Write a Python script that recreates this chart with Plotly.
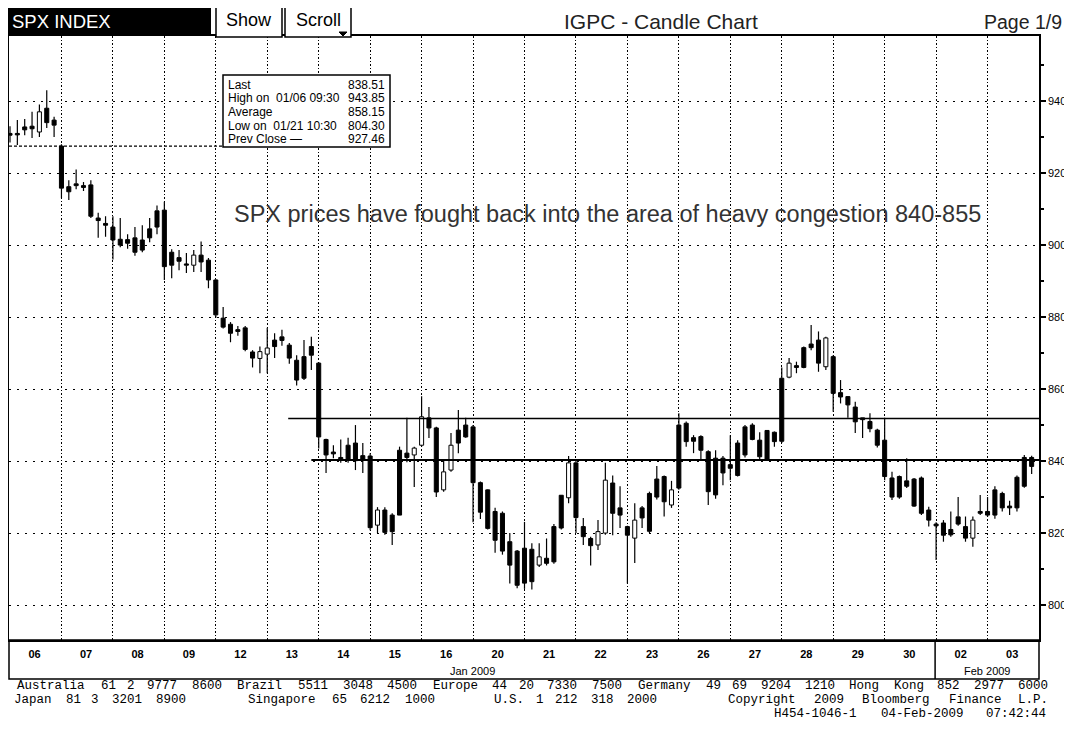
import re
import plotly.graph_objects as go

# ---------------- data ----------------
DAYS = ["06", "07", "08", "09", "12", "13", "14", "15", "16", "20",
        "21", "22", "23", "26", "27", "28", "29", "30", "02", "03"]
MONTHS = ["Jan 2009", "Feb 2009"]
MONTH_DAY_COUNTS = [18, 2]
BARS_PER_DAY = 7

# hourly bars, one row per trading day
OPEN = [
    931.0, 931.0, 932.8, 933.0, 931.4, 938.0, 934.7,
    927.5, 916.2, 917.0, 916.5, 916.7, 907.5, 906.0,
    905.0, 901.6, 901.5, 902.0, 901.4, 904.5, 909.5,
    909.7, 898.0, 896.5, 894.5, 894.4, 897.2, 895.8,
    890.3, 879.7, 878.0, 876.5, 877.0, 870.3, 868.5,
    869.7, 873.6, 874.5, 872.2, 868.0, 869.0, 871.8,
    867.2, 846.0, 842.5, 841.0, 844.4, 845.0, 841.5,
    841.4, 822.2, 826.4, 825.0, 843.0, 842.2, 841.7,
    844.4, 852.0, 849.2, 832.0, 837.5, 848.6, 850.0,
    849.5, 834.0, 832.0, 826.0, 825.5, 817.6, 815.0,
    815.8, 815.5, 811.1, 813.0, 821.8, 830.5, 829.8,
    839.5, 821.8, 818.5, 816.7, 820.0, 833.9, 827.0,
    821.8, 818.6, 827.0, 831.0, 835.0, 835.7, 827.8,
    850.0, 850.5, 846.5, 846.8, 842.6, 840.8, 840.8,
    839.0, 845.0, 849.5, 850.0, 845.8, 848.5, 848.0,
    863.0, 863.3, 866.5, 871.5, 872.5, 873.6, 866.2,
    869.0, 859.0, 857.9, 855.0, 852.0, 851.0, 848.6,
    845.8, 835.3, 835.7, 834.5, 835.0, 835.3, 826.4,
    822.5, 822.8, 821.0, 824.5, 821.8, 818.6, 826.0,
    826.0, 832.0, 831.0, 827.5, 835.5, 841.0, 841.0,
]
HIGH = [
    933.0, 934.7, 935.0, 937.0, 939.0, 943.0, 935.6,
    928.0, 918.0, 921.0, 917.5, 918.0, 909.0, 908.0,
    908.0, 907.5, 903.0, 905.0, 905.5, 907.5, 911.0,
    912.0, 898.8, 898.6, 897.8, 898.6, 901.0, 896.4,
    890.5, 882.8, 878.6, 877.5, 877.5, 870.8, 871.8,
    877.0, 875.5, 876.5, 872.8, 869.4, 873.6, 874.5,
    867.5, 846.2, 844.4, 846.0, 846.5, 850.0, 845.0,
    842.2, 827.2, 827.2, 825.5, 844.0, 852.0, 844.0,
    858.0, 855.0, 849.5, 840.0, 847.8, 854.2, 852.0,
    850.0, 834.3, 832.2, 827.0, 826.0, 820.0, 815.3,
    823.1, 817.2, 817.2, 818.5, 822.5, 830.6, 841.4,
    840.0, 824.2, 819.0, 823.6, 839.5, 836.0, 833.0,
    822.0, 828.3, 827.5, 831.5, 838.6, 836.0, 834.5,
    853.3, 851.0, 847.2, 847.2, 843.0, 843.0, 841.4,
    847.2, 845.8, 850.0, 850.5, 848.0, 848.6, 848.2,
    866.0, 868.6, 867.6, 871.8, 877.8, 876.0, 874.5,
    869.4, 862.5, 858.0, 856.5, 852.0, 853.3, 849.0,
    852.0, 837.0, 836.0, 840.8, 835.3, 835.7, 827.3,
    823.0, 823.6, 826.0, 830.0, 824.6, 824.6, 830.6,
    830.0, 833.0, 831.5, 829.0, 836.0, 841.7, 841.5,
]
LOW = [
    928.5, 927.8, 930.5, 929.7, 930.0, 932.5, 930.0,
    913.0, 912.5, 915.5, 915.0, 907.5, 902.0, 902.3,
    896.0, 899.4, 899.0, 897.0, 898.0, 900.8, 903.0,
    890.3, 890.8, 893.0, 892.2, 892.5, 892.5, 888.0,
    879.8, 876.8, 873.0, 874.8, 870.5, 866.0, 864.4,
    864.4, 868.6, 872.0, 867.0, 861.0, 862.5, 865.3,
    843.5, 836.7, 840.8, 839.5, 839.5, 837.5, 836.7,
    820.8, 820.0, 819.5, 816.7, 825.0, 839.7, 832.8,
    844.0, 846.4, 830.0, 831.5, 837.0, 842.2, 846.5,
    823.0, 823.9, 821.0, 814.5, 814.0, 806.0, 804.7,
    804.5, 804.3, 810.6, 811.0, 811.5, 821.0, 828.3,
    820.0, 816.7, 811.0, 815.3, 819.5, 819.4, 821.4,
    806.0, 811.7, 821.4, 820.0, 829.3, 824.6, 827.0,
    832.0, 844.0, 842.2, 840.3, 827.8, 829.5, 833.3,
    834.7, 835.7, 841.0, 845.8, 840.3, 840.3, 844.0,
    845.0, 863.0, 864.4, 865.8, 870.8, 864.8, 865.3,
    853.7, 856.0, 852.0, 847.8, 846.4, 848.0, 843.8,
    834.7, 829.2, 829.5, 832.5, 827.3, 825.0, 821.8,
    812.5, 817.6, 819.0, 822.0, 817.6, 816.2, 825.0,
    824.5, 824.0, 826.0, 825.0, 826.0, 832.6, 836.4,
]
CLOSE = [
    930.5, 930.6, 932.0, 932.3, 937.0, 934.0, 933.3,
    915.8, 914.8, 916.5, 916.0, 908.0, 906.8, 905.5,
    901.4, 900.0, 900.5, 898.0, 898.6, 902.0, 905.0,
    894.0, 894.4, 895.5, 894.4, 897.2, 895.3, 890.3,
    880.6, 877.2, 875.5, 876.0, 871.0, 868.6, 870.4,
    871.4, 871.8, 873.5, 868.6, 862.5, 863.0, 869.4,
    846.7, 841.7, 842.0, 840.3, 840.3, 840.1, 840.5,
    821.5, 826.4, 820.2, 820.4, 825.0, 841.0, 843.6,
    852.3, 849.2, 831.4, 837.0, 844.4, 845.0, 846.7,
    834.0, 825.8, 821.3, 818.0, 815.0, 811.1, 805.5,
    806.1, 806.5, 813.4, 811.6, 812.0, 821.4, 839.5,
    824.3, 819.0, 816.5, 820.4, 834.7, 825.5, 825.0,
    819.4, 823.6, 824.2, 820.5, 830.0, 828.7, 832.0,
    832.5, 845.4, 845.5, 843.0, 831.5, 830.6, 836.7,
    838.0, 836.0, 841.7, 846.0, 841.2, 840.5, 845.4,
    845.5, 867.2, 866.0, 866.0, 871.5, 867.2, 874.2,
    858.8, 857.8, 855.6, 850.9, 851.5, 849.0, 844.4,
    835.7, 830.0, 830.0, 833.0, 827.5, 825.5, 823.6,
    822.0, 819.4, 819.5, 822.5, 818.6, 823.6, 825.5,
    825.0, 825.0, 827.0, 827.0, 827.0, 833.0, 838.51,
]

INFO_LABELS = ["Last", "High on  01/06 09:30", "Average", "Low on  01/21 10:30", "Prev Close \u2014"]
INFO_VALUES = ["838.51", "943.85", "858.15", "804.30", "927.46"]
PREV_CLOSE = 927.46
ZONE_LEVELS = [851.8, 840.3]        # drawn congestion lines
ZONE_START_BARS = [37.85, 41.0]     # bar index where each line starts
Y_TICKS = [800, 820, 840, 860, 880, 900, 920, 940]
NOTE = "SPX prices have fought back into the area of heavy congestion 840-855"
FOOTER_1 = ["Australia 61 2 9777 8600 Brazil 5511 3048 4500 Europe 44 20 7330 7500 Germany 49 69 9204 1210 Hong Kong 852 2977 6000"]
FOOTER_2 = ["Japan 81 3 3201 8900", "Singapore 65 6212 1000", "U.S. 1 212 318 2000",
            "Copyright 2009 Bloomberg Finance L.P."]
FOOTER_3 = ["H454-1046-1 04-Feb-2009 07:42:44"]

# ---------------- geometry (reference-pixel coordinates) ----------------
W, H = 1072, 729
OFF = 8                      # default page margin of the html body
PL, PR, PT, PB = 9, 1039, 36, 640


def px(x):
    return (x - PL) / (PR - PL)


def py(y):
    return (PB - y) / (PB - PT)


n = len(OPEN)
idx = list(range(n))
X_RANGE = [-0.136, n]
Y_RANGE = [790.3, 958.06]

FONT = "Liberation Sans, Arial, sans-serif"
NARROW = "Liberation Sans Narrow, Liberation Sans, Arial, sans-serif"
MONO = "Liberation Mono, DejaVu Sans Mono, monospace"

# ---------------- candles ----------------
body_lo = [min(o, c) for o, c in zip(OPEN, CLOSE)]
body_hi = [max(o, c) for o, c in zip(OPEN, CLOSE)]
body_h = [max(h - l, 0.35) for h, l in zip(body_hi, body_lo)]
body_col = ["white" if c > o else "black" for o, c in zip(OPEN, CLOSE)]

wx, wy = [], []
for i in idx:
    wx += [i, i, None, i, i, None]
    wy += [LOW[i], body_lo[i], None, body_hi[i], HIGH[i], None]

fig = go.Figure()
fig.add_trace(go.Scatter(x=wx, y=wy, mode="lines", line=dict(color="black", width=1.2),
                         hoverinfo="skip", showlegend=False))
fig.add_trace(go.Bar(x=idx, y=body_h, base=body_lo, width=0.55,
                     marker=dict(color=body_col, line=dict(color="black", width=1)),
                     showlegend=False, hoverinfo="skip"))

# ---------------- axes ----------------
day_centers = [BARS_PER_DAY * i + 3.35 for i in range(len(DAYS))]
day_starts = [BARS_PER_DAY * i for i in range(1, len(DAYS))]

FW, FH = W - OFF, H - 2 * OFF
fig.update_layout(
    width=FW, height=FH,
    margin=dict(l=PL - OFF, r=FW - (PR - OFF), t=PT - OFF, b=FH - (PB - OFF), autoexpand=False),
    paper_bgcolor="white", plot_bgcolor="white",
    barmode="overlay", showlegend=False, hovermode=False,
    xaxis=dict(range=X_RANGE, showline=True, linecolor="black", linewidth=1.5, mirror=True,
               tickmode="array", tickvals=day_centers, ticktext=DAYS, ticks="",
               ticklabelstandoff=3,
               tickfont=dict(family=NARROW, size=11, color="black", weight="bold"),
               showgrid=False, zeroline=False,
               minor=dict(tickvals=day_starts, showgrid=True, gridcolor="black",
                          griddash="1.5px,2px", gridwidth=1, ticks="")),
    yaxis=dict(range=Y_RANGE, side="right", showline=True, linecolor="black", linewidth=1.5,
               mirror=True, tickmode="array", tickvals=Y_TICKS, ticks="outside", ticklen=5,
               tickcolor="black", tickwidth=1.5,
               tickfont=dict(family=NARROW, size=11, color="black"),
               showgrid=True, gridcolor="black", griddash="2px,6px", gridwidth=1,
               zeroline=False,
               minor=dict(dtick=10, ticks="outside", ticklen=3, tickcolor="black",
                          showgrid=False)),
)

shapes = []
annots = []

# congestion lines
for lvl, start, wdt in zip(ZONE_LEVELS, ZONE_START_BARS, [1.5, 2]):
    shapes.append(dict(type="line", xref="x", yref="y", x0=start, x1=X_RANGE[1],
                       y0=lvl, y1=lvl, line=dict(color="black", width=wdt)))

# prev close line (left of info box)
shapes.append(dict(type="line", xref="paper", yref="y", x0=0, x1=px(223),
                   y0=PREV_CLOSE, y1=PREV_CLOSE,
                   line=dict(color="black", width=1.2, dash="3px,2px")))

# info box
shapes.append(dict(type="rect", xref="paper", yref="paper", x0=px(223), x1=px(390),
                   y0=py(147), y1=py(75), fillcolor="white", line=dict(color="black", width=1.5)))
for r, (lab, val) in enumerate(zip(INFO_LABELS, INFO_VALUES)):
    yy = py(85 + 13.5 * r)
    annots.append(dict(x=px(226), y=yy, text=lab, xanchor="left",
                       font=dict(family=NARROW, size=12, color="black")))
    annots.append(dict(x=px(387), y=yy, text=val, xanchor="right",
                       font=dict(family=NARROW, size=12, color="black")))

# note text
annots.append(dict(x=px(232), y=py(214), text=NOTE, xanchor="left",
                   font=dict(family=FONT, size=23.5, color="#333333")))

# header
shapes.append(dict(type="rect", xref="paper", yref="paper", x0=px(7), x1=px(211),
                   y0=py(36), y1=py(6), fillcolor="black", line=dict(width=0)))
for bx0, bx1 in [(216, 282), (285, 351)]:
    shapes.append(dict(type="rect", xref="paper", yref="paper", x0=px(bx0), x1=px(bx1),
                       y0=py(37), y1=py(5), fillcolor="white",
                       line=dict(color="black", width=1.5)))
shapes.append(dict(type="path", xref="paper", yref="paper",
                   path=f"M {px(339)},{py(32)} L {px(347)},{py(32)} L {px(343)},{py(36)} Z",
                   fillcolor="black", line=dict(color="black", width=1)))
annots.append(dict(x=px(10), y=py(21), text="SPX INDEX", xanchor="left",
                   font=dict(family=FONT, size=18.5, color="white")))
annots.append(dict(x=px(249), y=py(20), text="Show", xanchor="center",
                   font=dict(family=FONT, size=18, color="black")))
annots.append(dict(x=px(318), y=py(20), text="Scroll", xanchor="center",
                   font=dict(family=FONT, size=18, color="black")))
annots.append(dict(x=px(661), y=py(22), text="IGPC - Candle Chart", xanchor="center",
                   font=dict(family=FONT, size=21, color="#222222")))
annots.append(dict(x=px(1064), y=py(22), text="Page 1/9", xanchor="right",
                   font=dict(family=FONT, size=19.5, color="#222222")))

# date strip
shapes.append(dict(type="rect", xref="paper", yref="paper", x0=0, x1=1,
                   y0=py(679), y1=0, line=dict(color="black", width=1.5)))
bounds = [X_RANGE[0]]
for cnt in MONTH_DAY_COUNTS:
    bounds.append(bounds[-1] + cnt * BARS_PER_DAY)
bounds[-1] = X_RANGE[1]
for b in bounds[1:-1]:
    shapes.append(dict(type="line", xref="x", yref="paper", x0=b, x1=b, y0=0, y1=py(679),
                       line=dict(color="black", width=1.5)))
for m, a0, a1 in zip(MONTHS, bounds[:-1], bounds[1:]):
    annots.append(dict(x=(a0 + a1) / 2, xref="x", y=py(671), text=m, xanchor="center",
                       font=dict(family=NARROW, size=11, color="black")))

# footer: fixed-pitch text laid out word by word on a character grid
CH, COL0 = 8.89, 11
for pieces, cols, yline in [(FOOTER_1, [0], 686), (FOOTER_2, [0, 26, 54, 80], 700),
                            (FOOTER_3, [85], 714)]:
    for piece, c0 in zip(pieces, cols):
        for mt in re.finditer(r"\S+", piece):
            c = c0 + mt.start() + len(mt.group()) / 2
            annots.append(dict(x=px(COL0 + CH * c), y=py(yline), text=mt.group(),
                               xanchor="center",
                               font=dict(family=MONO, size=12.5, color="black")))

for a in annots:
    a.setdefault("xref", "paper")
    a.setdefault("yref", "paper")
    a.setdefault("yanchor", "middle")
    a["showarrow"] = False

fig.update_layout(shapes=shapes, annotations=annots)
fig.write_html("out.html")
